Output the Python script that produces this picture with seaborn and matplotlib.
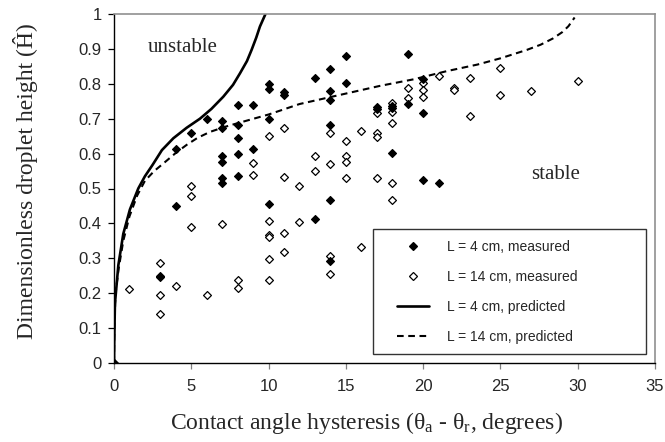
import matplotlib
matplotlib.use("Agg")
import matplotlib.pyplot as plt
import seaborn as sns
import pandas as pd
from matplotlib.lines import Line2D
from matplotlib.legend_handler import HandlerLine2D

# ---- data ----
x_l4 = [0, 3, 4, 4, 5, 6, 7, 7, 7, 7, 7, 7, 8, 8, 8, 8, 8, 9, 9,
        10, 10, 10, 10, 11, 11, 13, 13, 14, 14, 14, 14, 14, 14, 15, 15,
        17, 17, 18, 18, 18, 19, 19, 20, 20, 20, 21]
y_l4 = [0, 0.249, 0.613, 0.451, 0.66, 0.70, 0.694, 0.674, 0.594, 0.575, 0.53, 0.517,
        0.739, 0.681, 0.646, 0.598, 0.536, 0.74, 0.613,
        0.80, 0.785, 0.70, 0.455, 0.777, 0.768, 0.816, 0.413,
        0.843, 0.78, 0.754, 0.681, 0.467, 0.293, 0.881, 0.803,
        0.734, 0.727, 0.737, 0.73, 0.603, 0.884, 0.742, 0.814, 0.715, 0.524, 0.515]

x_l14 = [0, 1, 3, 3, 3, 3, 4, 5, 5, 5, 6, 7, 8, 8, 9, 9,
         10, 10, 10, 10, 10, 10, 11, 11, 11, 11, 12, 12, 13, 13,
         14, 14, 14, 14, 15, 15, 15, 15, 16, 16, 17, 17, 17, 17,
         18, 18, 18, 18, 18, 19, 19, 20, 20, 20, 21, 22, 22, 23, 23,
         25, 25, 27, 30]
y_l14 = [0, 0.211, 0.287, 0.245, 0.195, 0.14, 0.221, 0.508, 0.478, 0.389, 0.195, 0.397,
         0.238, 0.214, 0.572, 0.54,
         0.651, 0.407, 0.367, 0.36, 0.298, 0.238, 0.672, 0.533, 0.373, 0.319,
         0.508, 0.403, 0.593, 0.551,
         0.66, 0.569, 0.307, 0.254, 0.637, 0.593, 0.577, 0.531, 0.665, 0.331,
         0.715, 0.66, 0.648, 0.531,
         0.745, 0.72, 0.687, 0.515, 0.467, 0.787, 0.76, 0.803, 0.782, 0.762,
         0.822, 0.787, 0.782, 0.818, 0.709, 0.844, 0.768, 0.78, 0.808]

x_pred4 = [0, 0.01, 0.06, 0.28, 0.6, 1.03, 1.57, 2.0, 2.5, 3.1, 3.84, 4.7, 5.56, 6.3,
           7.07, 7.7, 8.15, 8.6, 8.9, 9.2, 9.44, 9.65, 9.8]
y_pred4 = [0, 0.05, 0.17, 0.28, 0.37, 0.44, 0.50, 0.535, 0.568, 0.61, 0.644, 0.674, 0.70,
           0.728, 0.763, 0.797, 0.83, 0.865, 0.897, 0.932, 0.964, 0.985, 1.0]

x_pred14 = [0, 0.02, 0.1, 0.3, 0.6, 1.0, 1.5, 2.0, 2.6, 3.2, 4.0, 4.7, 5.4, 6.2, 7.2, 8.15,
            10, 12, 15, 17.2, 19.4, 21.5, 23.5, 25, 26.7, 27.6, 28.4, 29.0, 29.4, 29.8]
y_pred14 = [0, 0.1, 0.2, 0.27, 0.35, 0.42, 0.48, 0.522, 0.55, 0.572, 0.602, 0.625, 0.645,
            0.662, 0.677, 0.689, 0.712, 0.742, 0.772, 0.794, 0.813, 0.836, 0.855, 0.873,
            0.897, 0.912, 0.93, 0.948, 0.965, 0.99]

labels = ["L = 4 cm, measured", "L = 14 cm, measured",
          "L = 4 cm, predicted", "L = 14 cm, predicted"]
x_ticks = [0, 5, 10, 15, 20, 25, 30, 35]
y_ticks = [0, 0.1, 0.2, 0.3, 0.4, 0.5, 0.6, 0.7, 0.8, 0.9, 1]

sns.set_theme(style="white")
plt.rcParams["font.family"] = ["Liberation Sans", "DejaVu Sans"]
plt.rcParams["mathtext.fontset"] = "custom"
plt.rcParams["mathtext.rm"] = "Liberation Serif"

fig = plt.figure(figsize=(6.65, 4.42), dpi=100)
ax = fig.add_axes([114 / 665, 1 - 363 / 442, 541 / 665, 349 / 442])

df4 = pd.DataFrame({"x": x_pred4, "y": y_pred4})
df14 = pd.DataFrame({"x": x_pred14, "y": y_pred14})
sns.lineplot(data=df4, x="x", y="y", ax=ax, color="black", lw=1.9,
             sort=False, estimator=None, zorder=2)
sns.lineplot(data=df14, x="x", y="y", ax=ax, color="black", lw=1.5,
             sort=False, estimator=None, zorder=2, dashes=False)
ax.lines[-1].set_dashes([3.2, 2.2])

dm4 = pd.DataFrame({"x": x_l4, "y": y_l4})
dm14 = pd.DataFrame({"x": x_l14, "y": y_l14})
sns.scatterplot(data=dm14, x="x", y="y", ax=ax, marker="D", s=16,
                facecolor="white", edgecolor="black", linewidth=0.9, zorder=3)
sns.scatterplot(data=dm4, x="x", y="y", ax=ax, marker="D", s=16,
                color="black", edgecolor="black", linewidth=0.9, zorder=4)

ax.set_xlim(0, 35)
ax.set_ylim(0, 1)
ax.set_xticks(x_ticks)
ax.set_yticks(y_ticks)
ax.set_xticklabels([str(t) for t in x_ticks])
ax.set_yticklabels([("%g" % t) for t in y_ticks])
ax.tick_params(axis="both", direction="out", length=4, width=0.9, color="black",
               labelsize=12, pad=5, left=True, bottom=True)
ax.tick_params(axis="x", color="#808080", pad=7.5)
for side in ["left", "bottom"]:
    ax.spines[side].set_color("black")
    ax.spines[side].set_linewidth(1.0)
for side in ["top", "right"]:
    ax.spines[side].set_color("#909090")
    ax.spines[side].set_linewidth(1.2)

serif = ["Liberation Serif", "DejaVu Serif"]
ax.set_xlabel(r"Contact angle hysteresis ($\mathregular{\theta_a}$ - $\mathregular{\theta_r}$, degrees)",
              fontsize=17, family=serif)
ax.xaxis.set_label_coords(0.466, -0.135)
ax.set_ylabel("Dimensionless droplet height (Ĥ)", fontsize=17, family=serif)
ax.yaxis.set_label_coords(-0.14, 0.52)

ax.text(2.2, 0.903, "unstable", fontsize=15, family=serif, ha="left", va="center")
ax.text(27.0, 0.539, "stable", fontsize=15, family=serif, ha="left", va="center")

handles = [
    Line2D([], [], ls="none", marker="D", ms=4.2, mfc="black", mec="black", mew=0.9),
    Line2D([], [], ls="none", marker="D", ms=4.2, mfc="white", mec="black", mew=0.9),
    Line2D([], [], color="black", lw=1.9),
    Line2D([], [], color="black", lw=1.5, dashes=[3.2, 2.2]),
]
leg = ax.legend(handles, labels, loc="lower left",
                bbox_to_anchor=(0.479, 0.026, 0.504, 0.369), mode="expand",
                borderaxespad=0, fontsize=10, frameon=True, fancybox=False,
                handlelength=3.3, handletextpad=1.3, labelspacing=1.15,
                borderpad=0.75, numpoints=1,
                handler_map={Line2D: HandlerLine2D(xpad=1.0)})
leg.get_frame().set_edgecolor("black")
leg.get_frame().set_linewidth(1.0)

fig.savefig("out.png", dpi=100)
